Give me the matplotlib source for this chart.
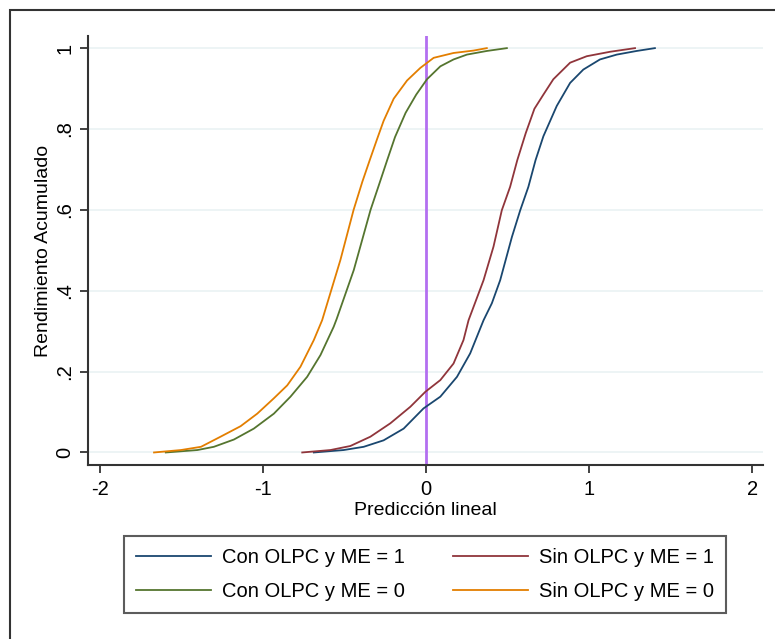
import matplotlib
matplotlib.use('Agg')
import matplotlib.pyplot as plt
from matplotlib.patches import Rectangle

plt.rcParams['font.family'] = ['Liberation Sans', 'DejaVu Sans']

# curves: x = prediccion lineal, y = rendimiento acumulado
con_me1_x = [-0.688, -0.505, -0.382, -0.260, -0.137, -0.015, 0.088, 0.190, 0.271, 0.353, 0.404,
             0.455, 0.527, 0.578, 0.628, 0.672, 0.720, 0.802, 0.884, 0.965, 1.067, 1.170, 1.292, 1.404]
con_me1_y = [0.0, 0.006, 0.014, 0.030, 0.059, 0.109, 0.138, 0.187, 0.245, 0.327, 0.369,
             0.426, 0.533, 0.599, 0.657, 0.723, 0.782, 0.857, 0.914, 0.947, 0.972, 0.984, 0.993, 1.0]

sin_me1_x = [-0.759, -0.586, -0.464, -0.341, -0.219, -0.096, -0.004, 0.088, 0.169, 0.230, 0.261,
             0.353, 0.414, 0.465, 0.516, 0.560, 0.612, 0.665, 0.720, 0.781, 0.884, 0.986, 1.129, 1.282]
sin_me1_y = [0.0, 0.006, 0.016, 0.039, 0.072, 0.113, 0.150, 0.179, 0.220, 0.278, 0.327,
             0.426, 0.509, 0.599, 0.657, 0.723, 0.790, 0.850, 0.885, 0.923, 0.964, 0.980, 0.991, 1.0]

con_me0_x = [-1.596, -1.402, -1.301, -1.178, -1.056, -0.933, -0.831, -0.729, -0.647, -0.566, -0.548,
             -0.443, -0.340, -0.290, -0.238, -0.190, -0.125, -0.060, 0.006, 0.088, 0.169, 0.251, 0.373, 0.496]
con_me0_y = [0.0, 0.006, 0.014, 0.032, 0.059, 0.096, 0.138, 0.187, 0.241, 0.311, 0.330,
             0.451, 0.600, 0.660, 0.723, 0.780, 0.840, 0.885, 0.923, 0.955, 0.972, 0.984, 0.993, 1.0]

sin_me0_x = [-1.668, -1.503, -1.380, -1.260, -1.137, -1.035, -0.933, -0.851, -0.770, -0.688, -0.637,
             -0.525, -0.444, -0.390, -0.345, -0.300, -0.260, -0.198, -0.116, -0.035, 0.047, 0.169, 0.292, 0.373]
sin_me0_y = [0.0, 0.006, 0.014, 0.039, 0.065, 0.096, 0.134, 0.166, 0.212, 0.278, 0.327,
             0.476, 0.600, 0.670, 0.723, 0.775, 0.820, 0.875, 0.920, 0.951, 0.976, 0.988, 0.994, 1.0]

labels = ['Con OLPC y ME = 1', 'Con OLPC y ME = 0', 'Sin OLPC y ME = 1', 'Sin OLPC y ME = 0']
colors = ['#1a476f', '#55752f', '#90353b', '#e37e00']

xticks = [-2, -1, 0, 1, 2]
yticks = [0, 0.2, 0.4, 0.6, 0.8, 1]
yticklabels = ['0', '.2', '.4', '.6', '.8', '1']

fig = plt.figure(figsize=(7.75, 6.39), dpi=100)
fig.patches.append(Rectangle((10 / 775, -0.1), 1.2, 1.1 - 10 / 639, transform=fig.transFigure,
                             fill=False, edgecolor='#333333', linewidth=1.5))
ax = fig.add_axes([88 / 775, 1 - 465 / 639, 675 / 775, 429 / 639])

series = [(con_me1_x, con_me1_y), (con_me0_x, con_me0_y), (sin_me1_x, sin_me1_y), (sin_me0_x, sin_me0_y)]
handles = []
for (xs, ys), lab, c in zip(series, labels, colors):
    h, = ax.plot(xs, ys, color=c, linewidth=1.3, label=lab)
    handles.append(h)

ax.axvline(0, color='#b36ff0', linewidth=2, zorder=1)

ax.set_xlim(-2.073, 2.067)
ax.set_ylim(-0.031, 1.03)
ax.set_xticks(xticks)
ax.set_xticklabels([str(t) for t in xticks])
ax.set_yticks(yticks)
ax.set_yticklabels(yticklabels, rotation=90, va='center')
ax.yaxis.grid(True, color='#eaf2f4', linewidth=1.2)
ax.set_axisbelow(True)
for s in ['top', 'right']:
    ax.spines[s].set_visible(False)
for s in ['left', 'bottom']:
    ax.spines[s].set_color('#333333')
    ax.spines[s].set_linewidth(1.5)
ax.tick_params(direction='out', length=6, width=1.3, color='#333333', labelsize=14.5)
ax.tick_params(axis='x', pad=5)
ax.tick_params(axis='y', pad=4)
ax.set_xlabel('Predicción lineal', fontsize=14, labelpad=2)
ax.set_ylabel('Rendimiento Acumulado', fontsize=14, labelpad=2)

leg = fig.legend(handles=handles, loc='upper center', bbox_to_anchor=(425 / 775, 1 - 536 / 639),
                 ncol=2, fontsize=14.5, handlelength=3.7, handletextpad=0.55, columnspacing=2.4,
                 labelspacing=0.75, fancybox=False, borderpad=0.6, borderaxespad=0)
leg.get_frame().set_edgecolor('#333333')
leg.get_frame().set_linewidth(1.5)

fig.savefig('out.png', dpi=100)
